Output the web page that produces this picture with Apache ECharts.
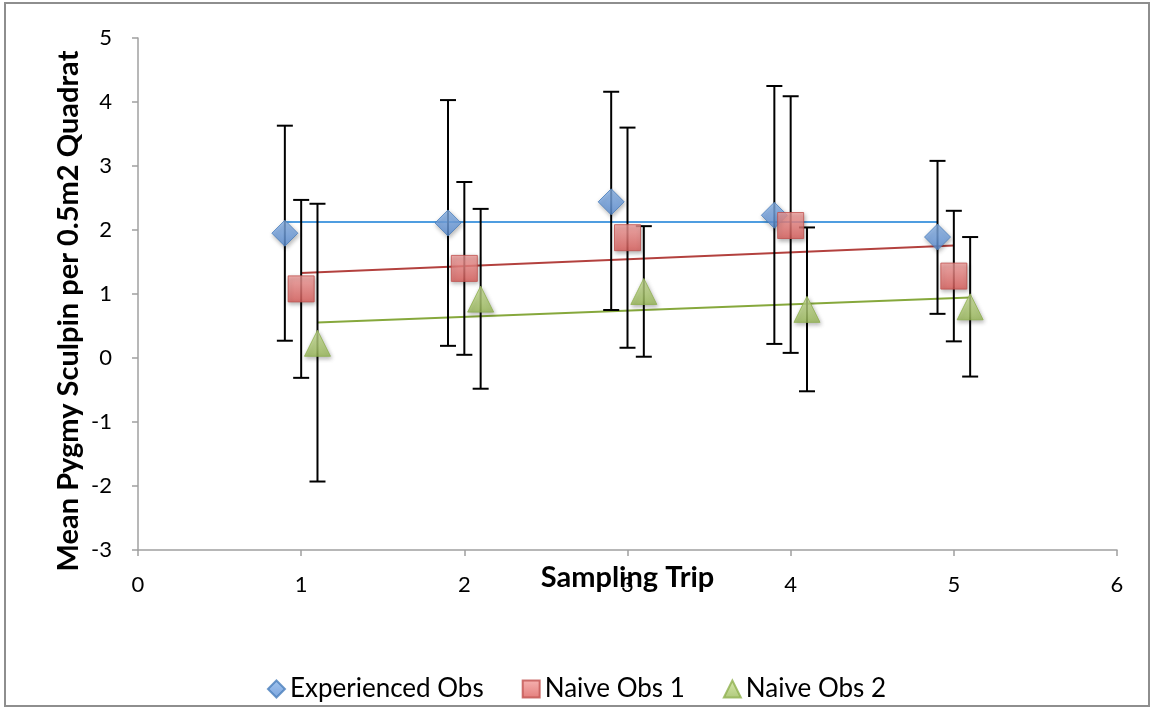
<!DOCTYPE html>
<html>
<head>
<meta charset="utf-8">
<script src="https://cdn.jsdelivr.net/npm/echarts@6/dist/echarts.min.js"></script>
<style>
  html, body { margin: 0; padding: 0; background: #fff; }
  #chart { width: 1153px; height: 710px; }
</style>
</head>
<body>
<div id="chart"></div>
<script>
// sampling trips and small x offsets per observer
const trips = [1, 2, 3, 4, 5]
const seriesNames = ['Experienced Obs', 'Naive Obs 1', 'Naive Obs 2']
const offsets = [-0.1, 0, 0.1]

// means and error bar ends
const expMean = [1.95, 2.11, 2.44, 2.23, 1.89]
const expLow = [0.27, 0.19, 0.75, 0.22, 0.69]
const expHigh = [3.63, 4.03, 4.16, 4.25, 3.08]

const naive1Mean = [1.08, 1.40, 1.88, 2.07, 1.28]
const naive1Low = [-0.31, 0.05, 0.16, 0.08, 0.26]
const naive1High = [2.47, 2.75, 3.60, 4.09, 2.30]

const naive2Mean = [0.23, 0.92, 1.04, 0.76, 0.80]
const naive2Low = [-1.93, -0.48, 0.02, -0.52, -0.29]
const naive2High = [2.41, 2.33, 2.06, 2.04, 1.89]

const xTicks = [0, 1, 2, 3, 4, 5, 6]
const yTicks = [-3, -2, -1, 0, 1, 2, 3, 4, 5]

const FONT = 'Lato, "Open Sans", sans-serif'

const means = [expMean, naive1Mean, naive2Mean]
const lows = [expLow, naive1Low, naive2Low]
const highs = [expHigh, naive1High, naive2High]
const symbols = ['diamond', 'rect', 'triangle']
const symbolSizes = [26, 26, [26, 26]]
const fills = [
  ['#8cb6ea', '#5b8fd6', '#4a7ebb'],
  ['#f4a09e', '#dc5d5a', '#c0504d'],
  ['#cfe59b', '#9bbb59', '#8fb04f']
]
const lineColors = ['#4f9de0', '#b3413e', '#86a83c']

function xs(i) {
  return trips.map(t => +(t + offsets[i]).toFixed(2))
}

// least squares trendline over the series' own x range
function trend(x, y) {
  const n = x.length
  const mx = x.reduce((a, b) => a + b, 0) / n
  const my = y.reduce((a, b) => a + b, 0) / n
  let sxy = 0, sxx = 0
  for (let k = 0; k < n; k++) {
    sxy += (x[k] - mx) * (y[k] - my)
    sxx += (x[k] - mx) * (x[k] - mx)
  }
  const b = sxy / sxx
  const a = my - b * mx
  return [[x[0], a + b * x[0]], [x[n - 1], a + b * x[n - 1]]]
}

function errorBarItem(params, api) {
  const x = api.value(0)
  const p1 = api.coord([x, api.value(1)])
  const p2 = api.coord([x, api.value(2)])
  const w = 8
  const style = { stroke: '#000', lineWidth: 2, fill: null }
  return {
    type: 'group',
    children: [
      { type: 'line', shape: { x1: p1[0], y1: p1[1], x2: p2[0], y2: p2[1] }, style: style },
      { type: 'line', shape: { x1: p1[0] - w, y1: p1[1], x2: p1[0] + w, y2: p1[1] }, style: style },
      { type: 'line', shape: { x1: p2[0] - w, y1: p2[1], x2: p2[0] + w, y2: p2[1] }, style: style }
    ]
  }
}

const series = []
for (let i = 0; i < 3; i++) {
  const x = xs(i)
  series.push({
    name: seriesNames[i] + ' trend',
    type: 'line',
    data: trend(x, means[i]),
    symbol: 'none',
    silent: true,
    lineStyle: { color: lineColors[i], width: 2 },
    z: 1
  })
}
for (let i = 0; i < 3; i++) {
  const x = xs(i)
  series.push({
    name: seriesNames[i] + ' error',
    type: 'custom',
    renderItem: errorBarItem,
    data: x.map((v, k) => [v, lows[i][k], highs[i][k]]),
    encode: { x: 0, y: [1, 2] },
    z: 2
  })
}
for (let i = 0; i < 3; i++) {
  const x = xs(i)
  series.push({
    name: seriesNames[i],
    type: 'scatter',
    data: x.map((v, k) => [v, means[i][k]]),
    symbol: symbols[i],
    symbolSize: symbolSizes[i],
    itemStyle: {
      color: new echarts.graphic.LinearGradient(0, 0, 0, 1, [
        { offset: 0, color: fills[i][0] },
        { offset: 1, color: fills[i][1] }
      ]),
      borderColor: fills[i][2],
      borderWidth: 1,
      shadowBlur: 4,
      shadowOffsetX: 1,
      shadowOffsetY: 2,
      shadowColor: 'rgba(0,0,0,0.35)'
    },
    z: 3
  })
}

const chart = echarts.init(document.getElementById('chart'))
chart.setOption({
  animation: false,
  backgroundColor: '#fff',
  textStyle: { fontFamily: FONT },
  graphic: [{
    type: 'rect',
    shape: { x: 5, y: 3, width: 1144, height: 703 },
    style: { fill: null, stroke: '#8e8e8e', lineWidth: 2 },
    silent: true
  }],
  grid: { left: 138, right: 36, top: 38, bottom: 160 },
  legend: {
    data: seriesNames,
    top: 671,
    left: 'center',
    itemWidth: 17,
    itemHeight: 17,
    itemGap: 38,
    textStyle: { fontSize: 26, color: '#000', fontFamily: FONT }
  },
  xAxis: {
    type: 'value',
    min: xTicks[0],
    max: xTicks[xTicks.length - 1],
    interval: 1,
    name: 'Sampling Trip',
    nameLocation: 'middle',
    nameGap: 13,
    nameMoveOverlap: false,
    nameTextStyle: { fontSize: 29, fontWeight: 'bold', color: '#000', fontFamily: FONT },
    axisLine: { onZero: false, lineStyle: { color: '#a0a0a0', width: 1.5 } },
    axisTick: { show: true, inside: false, length: 6, lineStyle: { color: '#a0a0a0', width: 1.5 } },
    axisLabel: { fontSize: 22, color: '#000', margin: 24, fontFamily: FONT },
    splitLine: { show: false }
  },
  yAxis: {
    type: 'value',
    min: yTicks[0],
    max: yTicks[yTicks.length - 1],
    interval: 1,
    name: 'Mean Pygmy Sculpin per 0.5m2 Quadrat',
    nameLocation: 'middle',
    nameGap: 55,
    nameMoveOverlap: false,
    nameTextStyle: { fontSize: 29, fontWeight: 'bold', color: '#000', fontFamily: FONT, padding: [0, 34, 0, 0] },
    axisLine: { show: true, onZero: false, lineStyle: { color: '#a0a0a0', width: 1.5 } },
    axisTick: { show: true, inside: false, length: 6, lineStyle: { color: '#a0a0a0', width: 1.5 } },
    axisLabel: { fontSize: 22, color: '#000', margin: 26, fontFamily: FONT },
    splitLine: { show: false }
  },
  series: series
})
</script>
</body>
</html>
